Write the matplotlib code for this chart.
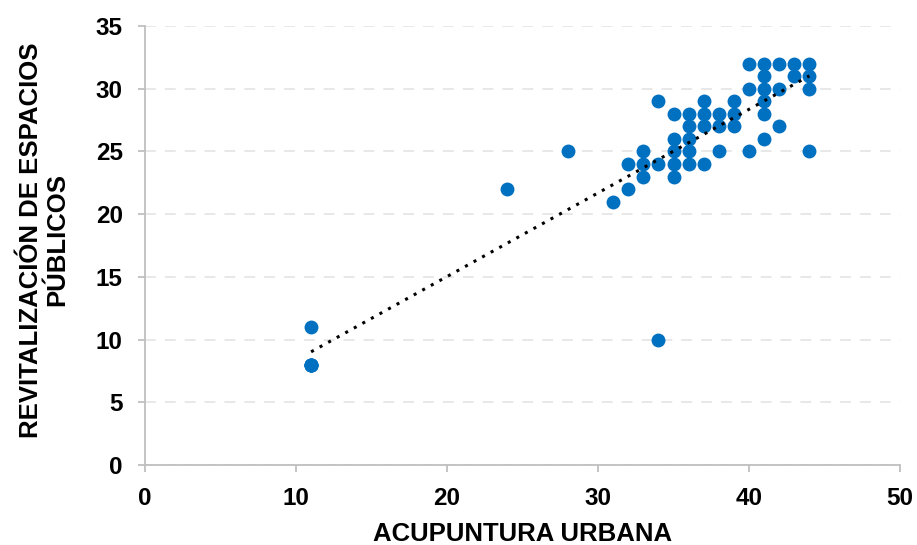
import numpy as np
import matplotlib
matplotlib.use("Agg")
import matplotlib.pyplot as plt
from matplotlib import font_manager

# pick an Arial-like family that actually has a bold face installed
chosen = 'DejaVu Sans'
for fam in ['Liberation Sans', 'Arimo', 'Roboto', 'Noto Sans', 'Open Sans', 'Lato', 'Inter']:
    faces = [f for f in font_manager.fontManager.ttflist
             if f.name == fam and (f.weight in ('bold', 700) or (isinstance(f.weight, int) and f.weight >= 700))]
    if faces:
        chosen = fam
        break
plt.rcParams['font.family'] = [chosen, 'DejaVu Sans']
plt.rcParams['font.weight'] = 'bold'

# overlapping points at (11, 8) are hidden under one marker
acupuntura = [11, 11, 11, 11, 11, 11, 24, 28, 34,
              40, 41, 42, 43, 44,
              41, 43, 44,
              40, 41, 42, 44,
              34, 37, 39, 41,
              35, 36, 37, 38, 39, 41,
              36, 37, 38, 39, 42,
              35, 36, 41,
              33, 35, 36, 38, 40, 44,
              32, 33, 34, 35, 36, 37,
              33, 35,
              32,
              31]
revitalizacion = [11, 8, 8, 8, 8, 8, 22, 25, 10,
                  32, 32, 32, 32, 32,
                  31, 31, 31,
                  30, 30, 30, 30,
                  29, 29, 29, 29,
                  28, 28, 28, 28, 28, 28,
                  27, 27, 27, 27, 27,
                  26, 26, 26,
                  25, 25, 25, 25, 25, 25,
                  24, 24, 24, 24, 24, 24,
                  23, 23,
                  22,
                  21]

x_ticks = [0, 10, 20, 30, 40, 50]
y_ticks = [0, 5, 10, 15, 20, 25, 30, 35]

FS = 17.5
FL = 18.5

fig = plt.figure(figsize=(9.17, 5.45), dpi=100)
ax = fig.add_axes([145/917, 1 - 465/545, (900-145)/917, (465-26)/545])

x = np.array(acupuntura, dtype=float)
y = np.array(revitalizacion, dtype=float)
ax.scatter(x, y, s=100, color='#0070C0', zorder=3, linewidths=0)

m, b = np.polyfit(x, y, 1)
xl = np.array([x.min(), x.max()])
ax.plot(xl, m * xl + b, color='black', linestyle=(0, (1, 2.2)), linewidth=2.2, zorder=4)

ax.set_xlim(0, 50)
ax.set_ylim(0, 35)
ax.set_xticks(x_ticks)
ax.set_yticks(y_ticks)
ax.set_xticklabels([str(v) for v in x_ticks], fontsize=FS, fontweight='bold')
ax.set_yticklabels([str(v) for v in y_ticks], fontsize=FS, fontweight='bold')

for s in ['top', 'right']:
    ax.spines[s].set_visible(False)
for s in ['left', 'bottom']:
    ax.spines[s].set_color('#BFBFBF')
    ax.spines[s].set_linewidth(1.3)
ax.tick_params(axis='both', direction='out', length=5, width=1.3, color='#BFBFBF', pad=11)

ax.yaxis.grid(True, color='#E6E6E6', linestyle=(0, (6, 5)), linewidth=1.3)
ax.set_axisbelow(True)

ax.set_xlabel('ACUPUNTURA URBANA', fontsize=FL, fontweight='bold', va='center')
ax.xaxis.set_label_coords(0.5, (465 - 534) / 439)
ax.set_ylabel('REVITALIZACIÓN DE ESPACIOS\nPÚBLICOS', fontsize=FL, fontweight='bold',
              linespacing=1.1, va='center', ha='center')
ax.yaxis.set_label_coords((44 - 145) / 755, (465 - 240) / 439)

fig.savefig('out.png', dpi=100)
